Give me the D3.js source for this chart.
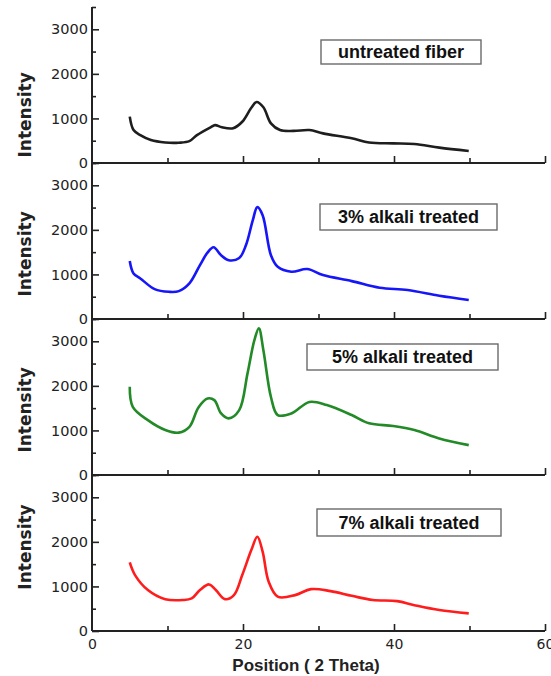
<!DOCTYPE html>
<html>
<head>
<meta charset="utf-8">
<script src="https://cdn.jsdelivr.net/npm/d3@7"></script>
<style>
  body { margin: 0; background: #fff; }
  svg { font-family: "Liberation Sans", Arial, sans-serif; }
</style>
</head>
<body>
<div id="chart"></div>
<script>
// 2 theta positions + intensity
var thetaUntreated = [5.0, 5.5, 6.4, 7.8, 9.7, 11.5, 12.9, 13.9, 15.7, 16.3, 17.2, 18.7, 19.9, 21.1, 21.8, 22.7, 23.7, 24.9, 26.7, 28.8, 30.6, 34.4, 36.7, 39.9, 42.7, 46.0, 49.9];
var intUntreated   = [1040, 740, 625, 515, 460, 455, 490, 625, 800, 850, 800, 780, 925, 1240, 1370, 1250, 890, 740, 720, 740, 665, 555, 460, 440, 425, 345, 270];

var theta3 = [5.0, 5.5, 6.4, 8.3, 10.2, 11.5, 12.9, 14.3, 15.3, 16.1, 17.1, 18.1, 19.5, 20.4, 21.3, 21.9, 22.6, 23.7, 24.6, 26.4, 28.5, 30.6, 34.4, 38.1, 41.8, 46.0, 49.9];
var int3   = [1300, 1020, 910, 670, 610, 625, 800, 1210, 1490, 1610, 1430, 1320, 1370, 1660, 2220, 2510, 2330, 1430, 1170, 1060, 1120, 985, 850, 700, 650, 520, 425];

var theta5 = [5.0, 5.4, 7.4, 9.7, 11.5, 12.9, 14.1, 15.3, 16.2, 17.1, 18.1, 19.5, 20.6, 21.5, 22.1, 22.7, 23.7, 24.6, 26.4, 28.8, 31.1, 34.4, 36.7, 39.9, 42.7, 46.0, 49.9];
var int5   = [1980, 1530, 1230, 1010, 950, 1080, 1515, 1715, 1680, 1380, 1270, 1455, 2280, 3020, 3290, 2800, 1750, 1345, 1380, 1640, 1570, 1345, 1160, 1100, 1010, 820, 670];

var theta7 = [5.0, 5.7, 7.4, 9.7, 12.0, 13.2, 14.3, 15.5, 16.4, 17.6, 18.8, 19.9, 21.1, 21.9, 22.6, 23.4, 24.6, 26.9, 29.0, 31.6, 34.4, 37.2, 40.4, 42.7, 46.0, 49.9];
var int7   = [1540, 1255, 920, 715, 695, 730, 920, 1045, 920, 715, 805, 1255, 1815, 2115, 1780, 1105, 770, 805, 940, 895, 790, 695, 670, 580, 470, 395];

var seriesNames = ["untreated fiber", "3% alkali treated", "5% alkali treated", "7% alkali treated"];
var xTickMajor = [20, 40, 60];
var xTickMinor = [10, 30, 50];
var xTickLabels = [0, 20, 40, 60];
var yTickMajor = [0, 1000, 2000, 3000];
var yTickMinor = [500, 1500, 2500, 3500];

// style per panel: colour, legend box [x, offset from panel top, width, height], where "Intensity" sits
var panels = [
  { x: thetaUntreated, y: intUntreated, color: "#1e1e1e", box: [321, 33, 160, 24], labelAt: 1080 },
  { x: theta3, y: int3, color: "#1616f8", box: [320, 41, 177, 26], labelAt: 1460 },
  { x: theta5, y: int5, color: "#228a26", box: [307, 25, 191, 26], labelAt: 1460 },
  { x: theta7, y: int7, color: "#ff1c1c", box: [317, 34, 184, 27], labelAt: 1885 }
];

var W = 551, H = 676;
var left = 92, right = 545, top0 = 7, panelH = 156;
var tickFont = "DejaVu Sans, sans-serif";

var svg = d3.select("#chart").append("svg")
    .attr("width", W)
    .attr("height", H);

var x = d3.scaleLinear().domain([0, 60]).range([left, right]);

var line = d3.line()
    .x(function(d){ return x(d[0]); })
    .y(function(d){ return d[2](d[1]); })
    .curve(d3.curveCatmullRom.alpha(0.5));

panels.forEach(function(p, i){
  var top = top0 + i * panelH;
  var y = d3.scaleLinear().domain([0, 3500]).range([top + panelH, top]);
  var g = svg.append("g");

  // curve
  var pts = p.x.map(function(t, k){ return [t, p.y[k], y]; });
  g.append("path")
    .datum(pts)
    .attr("d", line)
    .attr("fill", "none")
    .attr("stroke", p.color)
    .attr("stroke-width", 2.6)
    .attr("stroke-linejoin", "round");

  // y axis ticks (inward)
  g.append("g")
    .attr("transform", "translate(" + left + ",0)")
    .call(d3.axisRight(y).tickValues(yTickMajor).tickSize(7).tickFormat(""))
    .call(function(a){ a.select(".domain").remove(); })
    .selectAll("line").attr("stroke", "#222").attr("stroke-width", 1.6);
  g.append("g")
    .attr("transform", "translate(" + left + ",0)")
    .call(d3.axisRight(y).tickValues(yTickMinor).tickSize(4).tickFormat(""))
    .call(function(a){ a.select(".domain").remove(); })
    .selectAll("line").attr("stroke", "#222").attr("stroke-width", 1.6);
  // y labels
  g.append("g")
    .attr("transform", "translate(" + left + ",0)")
    .call(d3.axisLeft(y).tickValues(yTickMajor).tickSize(0).tickPadding(4).tickFormat(d3.format("d")))
    .call(function(a){ a.select(".domain").remove(); })
    .selectAll("text")
      .attr("fill", "#222")
      .style("font-size", "14.5px")
      .style("font-family", tickFont);

  // bottom axis of each panel, ticks pointing up
  var base = top + panelH;
  g.append("line")
    .attr("x1", left).attr("x2", right)
    .attr("y1", base).attr("y2", base)
    .attr("stroke", "#222").attr("stroke-width", 2);
  g.append("g")
    .attr("transform", "translate(0," + base + ")")
    .call(d3.axisTop(x).tickValues(xTickMajor).tickSize(7).tickFormat(""))
    .call(function(a){ a.select(".domain").remove(); })
    .selectAll("line").attr("stroke", "#222").attr("stroke-width", 1.6);
  g.append("g")
    .attr("transform", "translate(0," + base + ")")
    .call(d3.axisTop(x).tickValues(xTickMinor).tickSize(5).tickFormat(""))
    .call(function(a){ a.select(".domain").remove(); })
    .selectAll("line").attr("stroke", "#222").attr("stroke-width", 1.6);

  // Intensity title
  g.append("text")
    .attr("transform", "translate(31," + y(p.labelAt) + ") rotate(-90)")
    .attr("text-anchor", "middle")
    .style("font-family", "DejaVu Sans, sans-serif")
    .style("font-weight", "bold")
    .style("font-size", "17px")
    .attr("fill", "#222")
    .text("Intensity");

  // legend box
  var bx = p.box[0], by = top + p.box[1], bw = p.box[2], bh = p.box[3];
  g.append("rect")
    .attr("x", bx).attr("y", by)
    .attr("width", bw).attr("height", bh)
    .attr("fill", "#fff")
    .attr("stroke", "#6a6a6a")
    .attr("stroke-width", 1.4);
  g.append("text")
    .attr("x", bx + bw / 2).attr("y", by + bh / 2 + 6)
    .attr("text-anchor", "middle")
    .style("font-weight", "bold")
    .style("font-size", "18px")
    .attr("fill", "#111")
    .text(seriesNames[i]);
});

// y axis spine
svg.append("line")
  .attr("x1", left).attr("x2", left)
  .attr("y1", top0).attr("y2", top0 + 4 * panelH)
  .attr("stroke", "#222").attr("stroke-width", 2);

// bottom tick labels
svg.append("g")
  .attr("transform", "translate(0," + (top0 + 4 * panelH) + ")")
  .call(d3.axisBottom(x).tickValues(xTickLabels).tickSize(0).tickPadding(8))
  .call(function(a){ a.select(".domain").remove(); })
  .selectAll("text")
    .attr("fill", "#222")
    .style("font-size", "14px")
    .style("font-family", tickFont);

svg.append("text")
  .attr("x", 306)
  .attr("y", 671)
  .attr("text-anchor", "middle")
  .style("font-weight", "bold")
  .style("font-size", "17px")
  .attr("fill", "#222")
  .text("Position ( 2 Theta)");
</script>
</body>
</html>
